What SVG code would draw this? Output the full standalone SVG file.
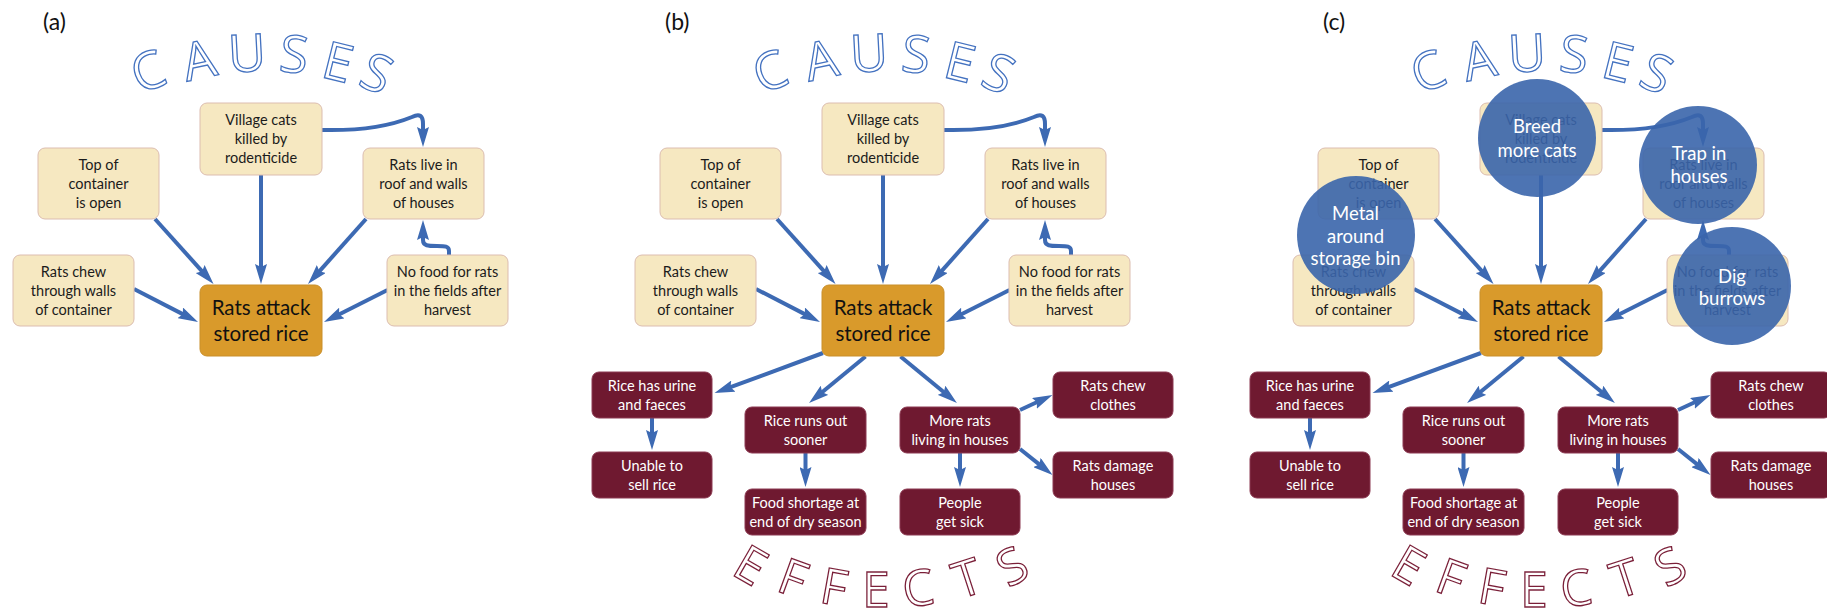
<svg xmlns="http://www.w3.org/2000/svg" width="1827" height="611" viewBox="0 0 1827 611">
<defs>
<style>
.cb{fill:#f6e8c1;stroke:#dcbdb0;stroke-width:1}
.rb{fill:#d99a2b;stroke:#c98f2a;stroke-width:1}
.eb{fill:#6f1930;stroke:#8c3a52;stroke-width:1}
.t{font-family:Lato,"Open Sans",sans-serif;font-size:14.5px;text-anchor:middle;fill:#1b1b1b}
.te{font-family:Lato,"Open Sans",sans-serif;font-size:14.5px;text-anchor:middle;fill:#ffffff}
.tr{font-family:Lato,"Open Sans",sans-serif;font-size:20.5px;text-anchor:middle;fill:#111111}
.tc{font-family:Lato,"Open Sans",sans-serif;font-size:18.5px;text-anchor:middle;fill:#ffffff}
.lbl{font-family:Lato,"Open Sans",sans-serif;font-size:23px;fill:#111111}
.cz{font-family:"Open Sans",sans-serif;font-size:52px;fill:#ffffff;stroke:#4472c0;stroke-width:1.3;text-anchor:middle}
.ef{font-family:"Open Sans",sans-serif;font-size:50px;fill:#ffffff;stroke:#7a1f38;stroke-width:1.3;text-anchor:middle}
.ar{fill:none;stroke:#3d6ab3;stroke-width:4;marker-end:url(#ah)}
.circ{fill:#3a65ab;fill-opacity:0.9}
</style>
<marker id="ah" markerUnits="userSpaceOnUse" viewBox="0 0 20 12" markerWidth="20" markerHeight="12" refX="11" refY="6" orient="auto">
<path d="M0,0 L20,6 L0,12 L3,6 z" fill="#3d6ab3"/>
</marker>
</defs>
<rect x="0" y="0" width="1827" height="611" fill="#ffffff"/>

<!-- panel labels -->
<text class="lbl" x="43" y="30">(a)</text>
<text class="lbl" x="665" y="30">(b)</text>
<text class="lbl" x="1323" y="30">(c)</text>

<!-- CAUSES words -->
<g id="causes-a">
<text class="cz" transform="translate(148,71) rotate(-20)" y="18.6">C</text>
<text class="cz" transform="translate(199,60) rotate(-12)" y="18.6">A</text>
<text class="cz" transform="translate(247,53) rotate(-3)" y="18.6">U</text>
<text class="cz" transform="translate(294,54) rotate(6)" y="18.6">S</text>
<text class="cz" transform="translate(338,62) rotate(14)" y="18.6">E</text>
<text class="cz" transform="translate(377,73) rotate(23)" y="18.6">S</text>
</g>
<g id="causes-b" transform="translate(622,0)">
<text class="cz" transform="translate(148,71) rotate(-20)" y="18.6">C</text>
<text class="cz" transform="translate(199,60) rotate(-12)" y="18.6">A</text>
<text class="cz" transform="translate(247,53) rotate(-3)" y="18.6">U</text>
<text class="cz" transform="translate(294,54) rotate(6)" y="18.6">S</text>
<text class="cz" transform="translate(338,62) rotate(14)" y="18.6">E</text>
<text class="cz" transform="translate(377,73) rotate(23)" y="18.6">S</text>
</g>
<g id="causes-c" transform="translate(1280,0)">
<text class="cz" transform="translate(148,71) rotate(-20)" y="18.6">C</text>
<text class="cz" transform="translate(199,60) rotate(-12)" y="18.6">A</text>
<text class="cz" transform="translate(247,53) rotate(-3)" y="18.6">U</text>
<text class="cz" transform="translate(294,54) rotate(6)" y="18.6">S</text>
<text class="cz" transform="translate(338,62) rotate(14)" y="18.6">E</text>
<text class="cz" transform="translate(377,73) rotate(23)" y="18.6">S</text>
</g>

<!-- EFFECTS words -->
<g id="effects-b">
<text class="ef" transform="translate(751,565) rotate(30)" y="17.8">E</text>
<text class="ef" transform="translate(793,578) rotate(20)" y="17.8">F</text>
<text class="ef" transform="translate(834,587) rotate(10)" y="17.8">F</text>
<text class="ef" transform="translate(876,589) rotate(0)" y="17.8">E</text>
<text class="ef" transform="translate(918,588) rotate(-8)" y="17.8">C</text>
<text class="ef" transform="translate(967,578) rotate(-18)" y="17.8">T</text>
<text class="ef" transform="translate(1012,566) rotate(-28)" y="17.8">S</text>
</g>
<g id="effects-c" transform="translate(658,0)">
<text class="ef" transform="translate(751,565) rotate(30)" y="17.8">E</text>
<text class="ef" transform="translate(793,578) rotate(20)" y="17.8">F</text>
<text class="ef" transform="translate(834,587) rotate(10)" y="17.8">F</text>
<text class="ef" transform="translate(876,589) rotate(0)" y="17.8">E</text>
<text class="ef" transform="translate(918,588) rotate(-8)" y="17.8">C</text>
<text class="ef" transform="translate(967,578) rotate(-18)" y="17.8">T</text>
<text class="ef" transform="translate(1012,566) rotate(-28)" y="17.8">S</text>
</g>

<!-- connectors -->
<g id="connectors">
<g id="conn-a">
<path class="ar" d="M261,175 L261,275"/>
<path class="ar" d="M155,219 L207.5,277.3"/>
<path class="ar" d="M366,219 L314,277.3"/>
<path class="ar" d="M134,289 L190,317.9"/>
<path class="ar" d="M387.5,290 L332,318"/>
<path class="ar" d="M322,130 C365,131 395,124 412,117 C420,113 423,116 423,124 L423,138"/>
<path class="ar" d="M449,255 L449,251 C449,246 445,246 437,246 C428,246 423,246 423,240 L423,229"/>
</g>
<g id="conn-b-causes" transform="translate(622,0)">
<path class="ar" d="M261,175 L261,275"/>
<path class="ar" d="M155,219 L207.5,277.3"/>
<path class="ar" d="M366,219 L314,277.3"/>
<path class="ar" d="M134,289 L190,317.9"/>
<path class="ar" d="M387.5,290 L332,318"/>
<path class="ar" d="M322,130 C365,131 395,124 412,117 C420,113 423,116 423,124 L423,138"/>
<path class="ar" d="M449,255 L449,251 C449,246 445,246 437,246 C428,246 423,246 423,240 L423,229"/>
</g>
<g id="conn-b-effects">
<path class="ar" d="M823,353 L723,389.9"/>
<path class="ar" d="M865.5,356.5 L816,397.3"/>
<path class="ar" d="M900.5,356.5 L950,397.3"/>
<path class="ar" d="M652,418 L652,441"/>
<path class="ar" d="M805.5,453 L805.5,478"/>
<path class="ar" d="M960,453 L960,478"/>
<path class="ar" d="M1020,410 L1044.3,398.8"/>
<path class="ar" d="M1020,449 L1045.5,469.4"/>
</g>
<g id="conn-c-causes" transform="translate(1280,0)">
<path class="ar" d="M261,175 L261,275"/>
<path class="ar" d="M155,219 L207.5,277.3"/>
<path class="ar" d="M366,219 L314,277.3"/>
<path class="ar" d="M134,289 L190,317.9"/>
<path class="ar" d="M387.5,290 L332,318"/>
<path class="ar" d="M322,130 C365,131 395,124 412,117 C420,113 423,116 423,124 L423,138"/>
<path class="ar" d="M449,255 L449,251 C449,246 445,246 437,246 C428,246 423,246 423,240 L423,229"/>
</g>
<g id="conn-c-effects" transform="translate(658,0)">
<path class="ar" d="M823,353 L723,389.9"/>
<path class="ar" d="M865.5,356.5 L816,397.3"/>
<path class="ar" d="M900.5,356.5 L950,397.3"/>
<path class="ar" d="M652,418 L652,441"/>
<path class="ar" d="M805.5,453 L805.5,478"/>
<path class="ar" d="M960,453 L960,478"/>
<path class="ar" d="M1020,410 L1044.3,398.8"/>
<path class="ar" d="M1020,449 L1045.5,469.4"/>
</g>
</g>

<!-- panel a nodes -->
<g id="panel-a">
<g id="a-village-cats"><rect class="cb" x="200" y="103" width="122" height="72" rx="7"/><text class="t" x="261" y="125.3">Village cats</text><text class="t" x="261" y="144.3">killed by</text><text class="t" x="261" y="163.3">rodenticide</text></g>
<g id="a-top-container"><rect class="cb" x="38" y="148" width="121" height="71" rx="7"/><text class="t" x="98.5" y="169.8">Top of</text><text class="t" x="98.5" y="188.8">container</text><text class="t" x="98.5" y="207.8">is open</text></g>
<g id="a-rats-live"><rect class="cb" x="363" y="148" width="121" height="71" rx="7"/><text class="t" x="423.5" y="169.8">Rats live in</text><text class="t" x="423.5" y="188.8">roof and walls</text><text class="t" x="423.5" y="207.8">of houses</text></g>
<g id="a-rats-chew"><rect class="cb" x="13" y="255" width="121" height="71" rx="7"/><text class="t" x="73.5" y="276.8">Rats chew</text><text class="t" x="73.5" y="295.8">through walls</text><text class="t" x="73.5" y="314.8">of container</text></g>
<g id="a-no-food"><rect class="cb" x="387" y="255" width="121" height="71" rx="7"/><text class="t" x="447.5" y="276.8">No food for rats</text><text class="t" x="447.5" y="295.8">in the fields after</text><text class="t" x="447.5" y="314.8">harvest</text></g>
<g id="a-rats-attack"><rect class="rb" x="200" y="285" width="122" height="71" rx="7"/><text class="tr" x="261" y="314.5">Rats attack</text><text class="tr" x="261" y="341">stored rice</text></g>
</g>

<!-- panel b nodes -->
<g id="panel-b">
<g transform="translate(622,0)">
<g id="b-village-cats"><rect class="cb" x="200" y="103" width="122" height="72" rx="7"/><text class="t" x="261" y="125.3">Village cats</text><text class="t" x="261" y="144.3">killed by</text><text class="t" x="261" y="163.3">rodenticide</text></g>
<g id="b-top-container"><rect class="cb" x="38" y="148" width="121" height="71" rx="7"/><text class="t" x="98.5" y="169.8">Top of</text><text class="t" x="98.5" y="188.8">container</text><text class="t" x="98.5" y="207.8">is open</text></g>
<g id="b-rats-live"><rect class="cb" x="363" y="148" width="121" height="71" rx="7"/><text class="t" x="423.5" y="169.8">Rats live in</text><text class="t" x="423.5" y="188.8">roof and walls</text><text class="t" x="423.5" y="207.8">of houses</text></g>
<g id="b-rats-chew"><rect class="cb" x="13" y="255" width="121" height="71" rx="7"/><text class="t" x="73.5" y="276.8">Rats chew</text><text class="t" x="73.5" y="295.8">through walls</text><text class="t" x="73.5" y="314.8">of container</text></g>
<g id="b-no-food"><rect class="cb" x="387" y="255" width="121" height="71" rx="7"/><text class="t" x="447.5" y="276.8">No food for rats</text><text class="t" x="447.5" y="295.8">in the fields after</text><text class="t" x="447.5" y="314.8">harvest</text></g>
<g id="b-rats-attack"><rect class="rb" x="200" y="285" width="122" height="71" rx="7"/><text class="tr" x="261" y="314.5">Rats attack</text><text class="tr" x="261" y="341">stored rice</text></g>
</g>
<g id="b-urine"><rect class="eb" x="592" y="372" width="120" height="46" rx="7"/><text class="te" x="652" y="391">Rice has urine</text><text class="te" x="652" y="410">and faeces</text></g>
<g id="b-unable"><rect class="eb" x="592" y="452" width="120" height="46" rx="7"/><text class="te" x="652" y="471">Unable to</text><text class="te" x="652" y="490">sell rice</text></g>
<g id="b-runs-out"><rect class="eb" x="745" y="407" width="121" height="46" rx="7"/><text class="te" x="805.5" y="426">Rice runs out</text><text class="te" x="805.5" y="445">sooner</text></g>
<g id="b-shortage"><rect class="eb" x="745" y="489" width="121" height="46" rx="7"/><text class="te" x="805.5" y="508">Food shortage at</text><text class="te" x="805.5" y="527">end of dry season</text></g>
<g id="b-more-rats"><rect class="eb" x="900" y="407" width="120" height="46" rx="7"/><text class="te" x="960" y="426">More rats</text><text class="te" x="960" y="445">living in houses</text></g>
<g id="b-sick"><rect class="eb" x="900" y="489" width="120" height="46" rx="7"/><text class="te" x="960" y="508">People</text><text class="te" x="960" y="527">get sick</text></g>
<g id="b-clothes"><rect class="eb" x="1053" y="372" width="120" height="46" rx="7"/><text class="te" x="1113" y="391">Rats chew</text><text class="te" x="1113" y="410">clothes</text></g>
<g id="b-damage"><rect class="eb" x="1053" y="452" width="120" height="46" rx="7"/><text class="te" x="1113" y="471">Rats damage</text><text class="te" x="1113" y="490">houses</text></g>
</g>

<!-- panel c nodes -->
<g id="panel-c">
<g transform="translate(1280,0)">
<g id="c-village-cats"><rect class="cb" x="200" y="103" width="122" height="72" rx="7"/><text class="t" x="261" y="125.3">Village cats</text><text class="t" x="261" y="144.3">killed by</text><text class="t" x="261" y="163.3">rodenticide</text></g>
<g id="c-top-container"><rect class="cb" x="38" y="148" width="121" height="71" rx="7"/><text class="t" x="98.5" y="169.8">Top of</text><text class="t" x="98.5" y="188.8">container</text><text class="t" x="98.5" y="207.8">is open</text></g>
<g id="c-rats-live"><rect class="cb" x="363" y="148" width="121" height="71" rx="7"/><text class="t" x="423.5" y="169.8">Rats live in</text><text class="t" x="423.5" y="188.8">roof and walls</text><text class="t" x="423.5" y="207.8">of houses</text></g>
<g id="c-rats-chew"><rect class="cb" x="13" y="255" width="121" height="71" rx="7"/><text class="t" x="73.5" y="276.8">Rats chew</text><text class="t" x="73.5" y="295.8">through walls</text><text class="t" x="73.5" y="314.8">of container</text></g>
<g id="c-no-food"><rect class="cb" x="387" y="255" width="121" height="71" rx="7"/><text class="t" x="447.5" y="276.8">No food for rats</text><text class="t" x="447.5" y="295.8">in the fields after</text><text class="t" x="447.5" y="314.8">harvest</text></g>
<g id="c-rats-attack"><rect class="rb" x="200" y="285" width="122" height="71" rx="7"/><text class="tr" x="261" y="314.5">Rats attack</text><text class="tr" x="261" y="341">stored rice</text></g>
</g>
<g transform="translate(658,0)">
<g id="c-urine"><rect class="eb" x="592" y="372" width="120" height="46" rx="7"/><text class="te" x="652" y="391">Rice has urine</text><text class="te" x="652" y="410">and faeces</text></g>
<g id="c-unable"><rect class="eb" x="592" y="452" width="120" height="46" rx="7"/><text class="te" x="652" y="471">Unable to</text><text class="te" x="652" y="490">sell rice</text></g>
<g id="c-runs-out"><rect class="eb" x="745" y="407" width="121" height="46" rx="7"/><text class="te" x="805.5" y="426">Rice runs out</text><text class="te" x="805.5" y="445">sooner</text></g>
<g id="c-shortage"><rect class="eb" x="745" y="489" width="121" height="46" rx="7"/><text class="te" x="805.5" y="508">Food shortage at</text><text class="te" x="805.5" y="527">end of dry season</text></g>
<g id="c-more-rats"><rect class="eb" x="900" y="407" width="120" height="46" rx="7"/><text class="te" x="960" y="426">More rats</text><text class="te" x="960" y="445">living in houses</text></g>
<g id="c-sick"><rect class="eb" x="900" y="489" width="120" height="46" rx="7"/><text class="te" x="960" y="508">People</text><text class="te" x="960" y="527">get sick</text></g>
<g id="c-clothes"><rect class="eb" x="1053" y="372" width="120" height="46" rx="7"/><text class="te" x="1113" y="391">Rats chew</text><text class="te" x="1113" y="410">clothes</text></g>
<g id="c-damage"><rect class="eb" x="1053" y="452" width="120" height="46" rx="7"/><text class="te" x="1113" y="471">Rats damage</text><text class="te" x="1113" y="490">houses</text></g>
</g>
<g id="c-breed"><circle class="circ" cx="1537" cy="138" r="59"/><text class="tc" x="1537" y="133">Breed</text><text class="tc" x="1537" y="157">more cats</text></g>
<g id="c-trap"><circle class="circ" cx="1698" cy="165" r="59"/><text class="tc" x="1699" y="160">Trap in</text><text class="tc" x="1699" y="183">houses</text></g>
<g id="c-metal"><circle class="circ" cx="1356" cy="235" r="59"/><text class="tc" x="1355.5" y="220">Metal</text><text class="tc" x="1355.5" y="242.5">around</text><text class="tc" x="1355.5" y="265">storage bin</text></g>
<g id="c-dig"><circle class="circ" cx="1732" cy="286" r="59"/><text class="tc" x="1732" y="282.5">Dig</text><text class="tc" x="1732" y="305">burrows</text></g>
</g>
</svg>
